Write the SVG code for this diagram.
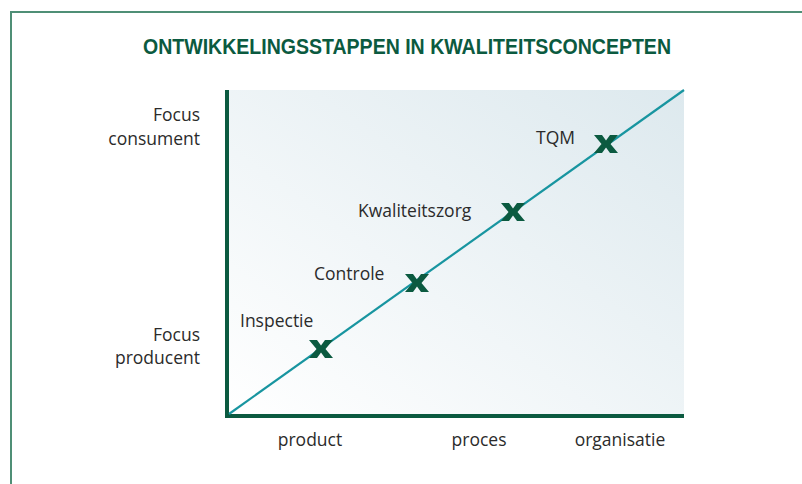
<svg xmlns="http://www.w3.org/2000/svg" width="802" height="484" viewBox="0 0 802 484">
<defs>
<linearGradient id="bg" x1="0" y1="1" x2="1" y2="0">
<stop offset="0" stop-color="#ffffff"/>
<stop offset="1" stop-color="#dde9ee"/>
</linearGradient>
<polygon id="x" points="-12,-9 -4,-9 0,-3.5 4,-9 12,-9 4.5,0 12,9 4,9 0,3.5 -4,9 -12,9 -4.5,0" fill="#0b5a40"/>
<style>
.lbl{font-family:"Open Sans","Liberation Sans",sans-serif;font-size:17.5px;fill:#2b2b2b}
.ttl{font-family:"Liberation Sans Narrow","Liberation Sans",sans-serif;font-size:22px;font-weight:bold;fill:#0b5a40}
.ax{stroke:#0b5a40;stroke-width:4;fill:none}
</style>
</defs>
<rect width="802" height="484" fill="#ffffff"/>
<path d="M11,484 V12 H802" fill="none" stroke="#4f8f76" stroke-width="2"/>
<text class="ttl" x="407" y="54" text-anchor="middle" textLength="528" lengthAdjust="spacingAndGlyphs">ONTWIKKELINGSSTAPPEN IN KWALITEITSCONCEPTEN</text>
<rect x="227" y="90" width="457" height="326" fill="url(#bg)"/>
<g id="axes">
<path class="ax" d="M227,90 V416 H684"/>
</g>
<g id="connectors">
<line x1="229" y1="414" x2="684" y2="90" stroke="#1895a0" stroke-width="2.2"/>
</g>
<g id="inspectie">
<use href="#x" x="321" y="349"/>
<text class="lbl" x="240" y="327">Inspectie</text>
</g>
<g id="controle">
<use href="#x" x="417" y="283"/>
<text class="lbl" x="314" y="280">Controle</text>
</g>
<g id="kwaliteitszorg">
<use href="#x" x="513" y="212"/>
<text class="lbl" x="358" y="217">Kwaliteitszorg</text>
</g>
<g id="tqm">
<use href="#x" x="606" y="144"/>
<text class="lbl" x="536" y="144">TQM</text>
</g>
<g id="ylabels">
<text class="lbl" x="200" y="121" text-anchor="end">Focus</text>
<text class="lbl" x="200" y="145" text-anchor="end">consument</text>
<text class="lbl" x="200" y="341" text-anchor="end">Focus</text>
<text class="lbl" x="200" y="364" text-anchor="end">producent</text>
</g>
<g id="xlabels">
<text class="lbl" x="310" y="446" text-anchor="middle">product</text>
<text class="lbl" x="479" y="446" text-anchor="middle">proces</text>
<text class="lbl" x="620" y="446" text-anchor="middle">organisatie</text>
</g>
</svg>
